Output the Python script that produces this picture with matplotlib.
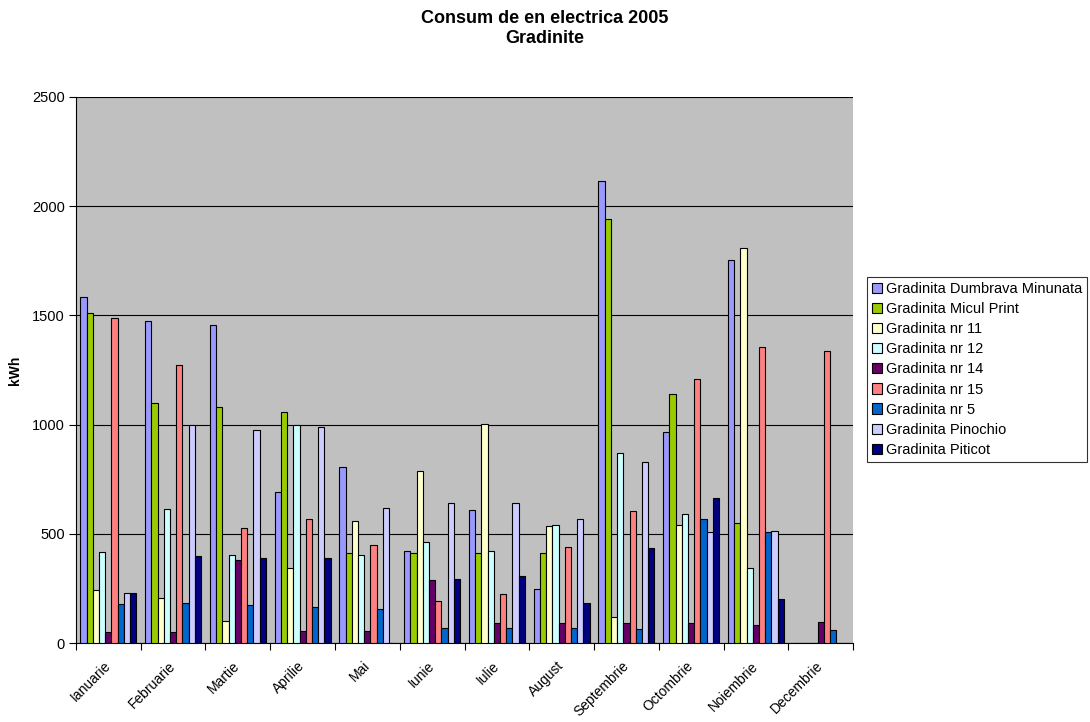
import matplotlib.pyplot as plt
import numpy as np
from matplotlib.transforms import ScaledTranslation

MONTHS = ["Ianuarie", "Februarie", "Martie", "Aprilie", "Mai", "Iunie",
          "Iulie", "August", "Septembrie", "Octombrie", "Noiembrie", "Decembrie"]

SERIES = ["Gradinita Dumbrava Minunata", "Gradinita Micul Print", "Gradinita nr 11",
          "Gradinita nr 12", "Gradinita nr 14", "Gradinita nr 15", "Gradinita nr 5",
          "Gradinita Pinochio", "Gradinita Piticot"]

dumbrava = [1583, 1476, 1456, 690, 807, 421, 610, 249, 2115, 965, 1754, 0]
micul_print = [1510, 1100, 1082, 1059, 411, 411, 411, 411, 1940, 1142, 551, 0]
nr11 = [243, 207, 102, 345, 559, 789, 1003, 537, 121, 539, 1807, 0]
nr12 = [418, 612, 401, 998, 401, 464, 423, 542, 871, 589, 345, 0]
nr14 = [52, 52, 379, 56, 56, 290, 93, 93, 93, 93, 81, 96]
nr15 = [1487, 1274, 525, 569, 450, 194, 226, 440, 606, 1209, 1354, 1337]
nr5 = [178, 183, 172, 165, 154, 67, 70, 70, 64, 569, 510, 60]
pinochio = [230, 998, 975, 991, 620, 641, 641, 569, 830, 510, 513, 0]
piticot = [227, 397, 389, 391, 0, 295, 307, 182, 433, 665, 201, 0]

COLORS = ["#9999FF", "#99CC00", "#FFFFCC", "#CCFFFF", "#660066",
          "#FF8080", "#0066CC", "#CCCCFF", "#000080"]

values = [dumbrava, micul_print, nr11, nr12, nr14, nr15, nr5, pinochio, piticot]

plt.rcParams["font.family"] = ["Liberation Sans", "DejaVu Sans"]

fig = plt.figure(figsize=(10.9, 7.22), dpi=100)
ax = fig.add_axes([0.0697, 0.1094, 0.7129, 0.7563])
ax.set_facecolor("#C0C0C0")

n = len(SERIES)
width = 0.865 / n
xs = np.arange(len(MONTHS)) + 0.5
for k, (name, vals, col) in enumerate(zip(SERIES, values, COLORS)):
    offs = (k - (n - 1) / 2) * width
    ax.bar(xs + offs, vals, width=width, color=col, edgecolor="black",
           linewidth=0.8, label=name, zorder=3)

ax.set_xlim(0, len(MONTHS))
ax.set_ylim(0, 2500)
ax.set_yticks(np.arange(0, 2501, 500))
ax.yaxis.grid(True, color="black", linewidth=0.8, zorder=1)
ax.set_axisbelow(True)

ax.set_xticks(np.arange(len(MONTHS) + 1))
ax.set_xticklabels([])
ax.set_xticks(xs, minor=True)
ax.set_xticklabels(MONTHS, minor=True, rotation=45, ha="right", va="center",
                   rotation_mode="anchor", fontsize=10)
shift = ScaledTranslation(-3 / 100, 0, fig.dpi_scale_trans)
for lab in ax.get_xticklabels(minor=True):
    lab.set_transform(lab.get_transform() + shift)
ax.tick_params(axis="x", which="minor", length=0, pad=15)
ax.tick_params(axis="x", which="major", length=5, color="black")
ax.tick_params(axis="y", labelsize=10.5, length=5, color="black", pad=3)

for side in ["top", "right"]:
    ax.spines[side].set_visible(False)
for side in ["left", "bottom"]:
    ax.spines[side].set_color("black")
    ax.spines[side].set_linewidth(0.8)

ax.set_ylabel("kWh", fontsize=10, fontweight="bold", labelpad=7)

fig.text(0.5, 0.9605, "Consum de en electrica 2005\nGradinite", ha="center",
         va="center", fontsize=13, fontweight="bold", linespacing=1.25)

leg = ax.legend(loc="center left", bbox_to_anchor=(1.018, 0.501), fontsize=10.5,
                frameon=True, fancybox=False, edgecolor="black",
                handlelength=0.7, handleheight=0.7, handletextpad=0.25,
                borderpad=0.35, borderaxespad=0, labelspacing=0.42)
leg.get_frame().set_linewidth(0.8)

fig.savefig("out.png", dpi=100, facecolor="white")
